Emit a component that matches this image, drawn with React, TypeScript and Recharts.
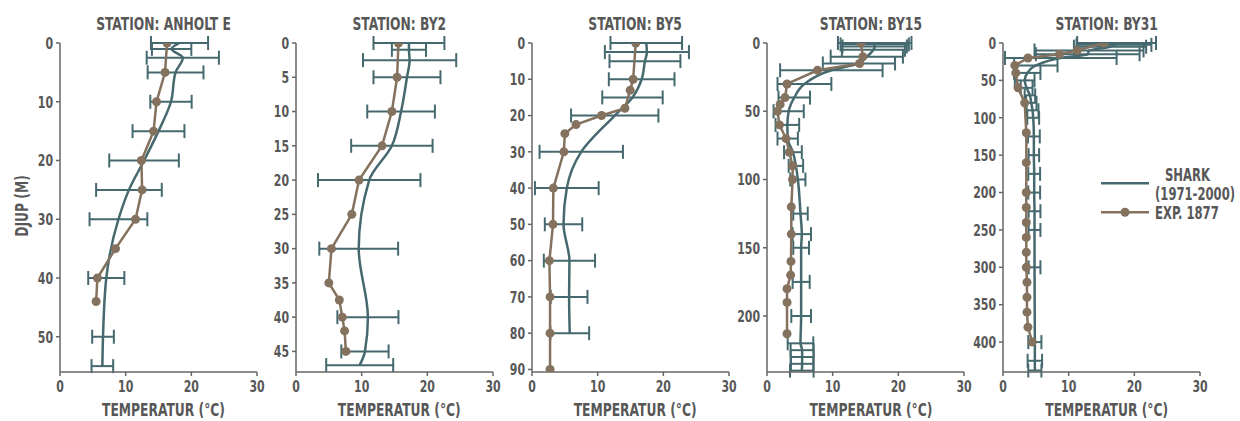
import React from 'react';
import { LineChart, Line, XAxis, YAxis, ErrorBar } from 'recharts';

const FONT = "'DejaVu Sans Condensed', 'DejaVu Sans', sans-serif";
const SQUEEZE = 0.76;
const TEAL = '#45696e';
const BROWN = '#84725f';
const TEXT = '#575757';
const AXIS = '#666666';

// ---------- Station titles ----------
const stationTitles = ['STATION: ANHOLT E', 'STATION: BY2', 'STATION: BY5', 'STATION: BY15', 'STATION: BY31'];
const xTitle = 'TEMPERATUR (°C)';
const yTitle = 'DJUP (M)';

// ---------- Temperature axis ----------
const tempTicks = [0, 10, 20, 30];

// ---------- ANHOLT E ----------
const shark1Depth = [0, 1, 2.5, 5, 10, 15, 20, 25, 30, 40, 50, 55];
const shark1Mean = [18.2, 17.0, 18.7, 17.6, 16.9, 15.0, 12.8, 10.5, 8.9, 7.05, 6.55, 6.45];
const shark1Sd = [4.35, 3.0, 5.5, 4.25, 3.15, 3.95, 5.3, 5.0, 4.4, 2.75, 1.65, 1.65];
const exp1Depth = [0, 5, 10, 15, 20, 25, 30, 35, 40, 44];
const exp1Temp = [16.3, 16.0, 14.7, 14.25, 12.4, 12.5, 11.5, 8.45, 5.7, 5.5];
const depth1Ticks = [0, 10, 20, 30, 40, 50];

// ---------- BY2 ----------
const shark2Depth = [0, 1, 2.5, 5, 10, 15, 20, 30, 40, 45, 47];
const shark2Mean = [17.2, 17.2, 17.3, 16.9, 16.0, 14.6, 11.15, 9.55, 10.95, 10.5, 9.7];
const shark2Sd = [5.4, 2.6, 7.1, 5.1, 5.15, 6.2, 7.8, 6.0, 4.65, 3.6, 5.1];
const exp2Depth = [0, 5, 10, 15, 20, 25, 30, 35, 37.5, 40, 42, 45];
const exp2Temp = [15.6, 15.4, 14.6, 13.1, 9.6, 8.5, 5.4, 5.0, 6.6, 7.05, 7.4, 7.6];
const depth2Ticks = [0, 5, 10, 15, 20, 25, 30, 35, 40, 45];

// ---------- BY5 ----------
const shark3Depth = [0, 2.5, 5, 10, 15, 20, 30, 40, 50, 60, 70, 80];
const shark3Mean = [17.4, 17.5, 17.2, 16.7, 15.3, 12.6, 7.5, 5.3, 4.8, 5.7, 5.65, 5.75];
const shark3Sd = [5.45, 6.4, 5.4, 5.0, 4.6, 6.65, 6.35, 4.85, 2.85, 3.9, 2.8, 2.95];
const exp3Depth = [0, 10, 13, 18, 20, 22.5, 25, 30, 40, 50, 60, 70, 80, 90];
const exp3Temp = [15.8, 15.4, 14.95, 14.15, 10.6, 6.7, 5.0, 4.85, 3.25, 3.2, 2.65, 2.75, 2.75, 2.75];
const depth3Ticks = [0, 10, 20, 30, 40, 50, 60, 70, 80, 90];

// ---------- BY15 ----------
const shark4Depth = [0, 1, 2.5, 5, 10, 15, 20, 30, 40, 50, 60, 70, 80, 90, 100, 125, 140, 150, 175, 200, 220, 225, 230, 235, 240];
const shark4Mean = [16.4, 16.4, 16.4, 16.2, 15.2, 14.0, 9.8, 5.7, 4.15, 3.3, 3.1, 3.15, 3.95, 4.4, 4.7, 5.1, 5.3, 5.2, 5.2, 5.2, 5.1, 5.35, 5.35, 5.35, 5.3];
const shark4Sd = [5.6, 5.2, 4.9, 4.8, 5.5, 5.5, 7.8, 4.1, 2.4, 2.3, 1.8, 1.55, 1.35, 1.1, 1.15, 1.1, 1.4, 1.2, 1.3, 1.5, 1.95, 1.75, 1.75, 1.7, 1.8];
const exp4Depth = [0, 10, 15, 20, 30, 40, 45, 50, 60, 70, 80, 90, 100, 120, 140, 160, 170, 180, 190, 213];
const exp4Temp = [14.3, 14.6, 14.1, 7.7, 3.05, 2.75, 2.0, 1.6, 1.9, 2.9, 3.4, 3.9, 3.9, 3.7, 3.7, 3.65, 3.6, 3.05, 3.05, 3.05];
const depth4Ticks = [0, 50, 100, 150, 200];

// ---------- BY31 ----------
const shark5Depth = [0, 2.5, 5, 10, 15, 20, 30, 40, 50, 60, 70, 80, 90, 100, 125, 150, 175, 200, 225, 250, 300, 400, 425, 438];
const shark5Mean = [17.3, 16.9, 16.3, 13.1, 12.9, 8.8, 5.0, 3.7, 3.3, 3.6, 4.1, 4.3, 4.5, 4.6, 4.7, 4.7, 4.75, 4.75, 4.8, 4.8, 4.8, 4.85, 4.85, 4.85];
const shark5Sd = [6.0, 5.7, 5.5, 8.3, 7.9, 8.5, 3.3, 2.0, 1.5, 0.9, 0.8, 0.8, 0.9, 0.9, 0.9, 0.8, 0.9, 0.9, 0.9, 0.9, 0.9, 1.0, 1.1, 1.0];
const exp5Depth = [0, 10, 15, 20, 30, 40, 60, 80, 120, 160, 200, 220, 240, 260, 280, 300, 320, 340, 360, 380, 400];
const exp5Temp = [15.35, 11.3, 8.6, 3.8, 1.8, 1.95, 2.3, 3.3, 3.55, 3.55, 3.55, 3.55, 3.55, 3.55, 3.55, 3.55, 3.65, 3.65, 3.65, 3.8, 4.45];
const depth5Ticks = [0, 50, 100, 150, 200, 250, 300, 350, 400];

const depthMax = [56, 48, 90.7, 241, 440];

const legendLabels = ['SHARK', '(1971-2000)', 'EXP. 1877'];

const makeShark = (d: number[], m: number[], s: number[]) => d.map((depth, i) => ({ depth, t: m[i], err: s[i] }));
const makeExp = (d: number[], t: number[]) => d.map((depth, i) => ({ depth, t: t[i] }));

const panels = [
  { shark: makeShark(shark1Depth, shark1Mean, shark1Sd), exp: makeExp(exp1Depth, exp1Temp), ticks: depth1Ticks },
  { shark: makeShark(shark2Depth, shark2Mean, shark2Sd), exp: makeExp(exp2Depth, exp2Temp), ticks: depth2Ticks },
  { shark: makeShark(shark3Depth, shark3Mean, shark3Sd), exp: makeExp(exp3Depth, exp3Temp), ticks: depth3Ticks },
  { shark: makeShark(shark4Depth, shark4Mean, shark4Sd), exp: makeExp(exp4Depth, exp4Temp), ticks: depth4Ticks },
  { shark: makeShark(shark5Depth, shark5Mean, shark5Sd), exp: makeExp(exp5Depth, exp5Temp), ticks: depth5Ticks },
];

const STEP = 235.8;
const Y_W = 60;
const PLOT_W = 197;
const RIGHT = 16;
const CH_W = Y_W + PLOT_W + RIGHT;

type STextProps = {
  x: number;
  y: number;
  size: number;
  anchor?: 'start' | 'middle' | 'end';
  dy?: string;
  rotate?: number;
  children: React.ReactNode;
};

const SText = ({ x, y, size, anchor = 'start', dy, rotate, children }: STextProps) => (
  <text
    transform={`translate(${x},${y})${rotate ? ` rotate(${rotate})` : ''} scale(${SQUEEZE},1)`}
    x={0}
    y={0}
    dy={dy}
    textAnchor={anchor}
    fill={TEXT}
    fontSize={size}
    fontWeight={700}
    fontFamily={FONT}
  >
    {children}
  </text>
);

const AxisTick = (props: any) => {
  const { x, y, payload, textAnchor, verticalAnchor } = props;
  const dy = verticalAnchor === 'start' ? '0.72em' : verticalAnchor === 'end' ? '0' : '0.36em';
  return (
    <SText x={x} y={y} size={16} anchor={textAnchor} dy={dy}>
      {payload.value}
    </SText>
  );
};

export default function App() {
  return (
    <div style={{ position: 'absolute', left: 0, top: 0, width: 1240, height: 421, background: '#fff', overflow: 'hidden' }}>
      {panels.map((p, i) => (
        <div key={i} style={{ position: 'absolute', left: i * STEP, top: 0 }}>
          <LineChart layout="vertical" width={CH_W} height={421} margin={{ top: 43, right: RIGHT, bottom: 19, left: 0 }}>
            <XAxis
              type="number"
              domain={[0, 30]}
              ticks={tempTicks}
              allowDataOverflow
              height={30}
              tickSize={4}
              tickMargin={4}
              stroke={AXIS}
              strokeWidth={1.5}
              tick={<AxisTick />}
              interval={0}
            />
            <YAxis
              type="number"
              dataKey="depth"
              domain={[0, depthMax[i]]}
              ticks={p.ticks}
              allowDataOverflow
              width={Y_W}
              tickSize={4}
              tickMargin={3}
              stroke={AXIS}
              strokeWidth={1.5}
              tick={<AxisTick />}
              interval={0}
            />
            <Line
              data={p.shark}
              dataKey="t"
              type="monotone"
              stroke={TEAL}
              strokeWidth={2.5}
              dot={false}
              isAnimationActive={false}
            >
              <ErrorBar dataKey="err" direction="x" width={7} stroke={TEAL} strokeWidth={2} isAnimationActive={false} />
            </Line>
            <Line
              data={p.exp}
              dataKey="t"
              type="linear"
              stroke={BROWN}
              strokeWidth={2.5}
              dot={{ r: 4.5, fill: BROWN, stroke: BROWN, strokeWidth: 0 }}
              isAnimationActive={false}
            />
          </LineChart>
        </div>
      ))}
      <svg width={1240} height={421} style={{ position: 'absolute', left: 0, top: 0, pointerEvents: 'none' }}>
        {stationTitles.map((t, i) => (
          <SText key={'t' + i} x={i * STEP + Y_W + PLOT_W / 2 + 5} y={30} size={18} anchor="middle">
            {t}
          </SText>
        ))}
        {stationTitles.map((_, i) => (
          <SText key={'x' + i} x={i * STEP + Y_W + PLOT_W / 2 + 5} y={415.5} size={18} anchor="middle">
            {xTitle}
          </SText>
        ))}
        <SText x={28} y={206} size={18} anchor="middle" rotate={-90}>
          {yTitle}
        </SText>
        <line x1={1101} x2={1149} y1={183.3} y2={183.3} stroke={TEAL} strokeWidth={2.5} />
        <line x1={1101} x2={1149} y1={212.3} y2={212.3} stroke={BROWN} strokeWidth={2.5} />
        <circle cx={1125} cy={212.3} r={4.5} fill={BROWN} />
        <SText x={1165} y={181} size={17}>{legendLabels[0]}</SText>
        <SText x={1155} y={199.5} size={17}>{legendLabels[1]}</SText>
        <SText x={1155} y={218.5} size={17}>{legendLabels[2]}</SText>
      </svg>
    </div>
  );
}
